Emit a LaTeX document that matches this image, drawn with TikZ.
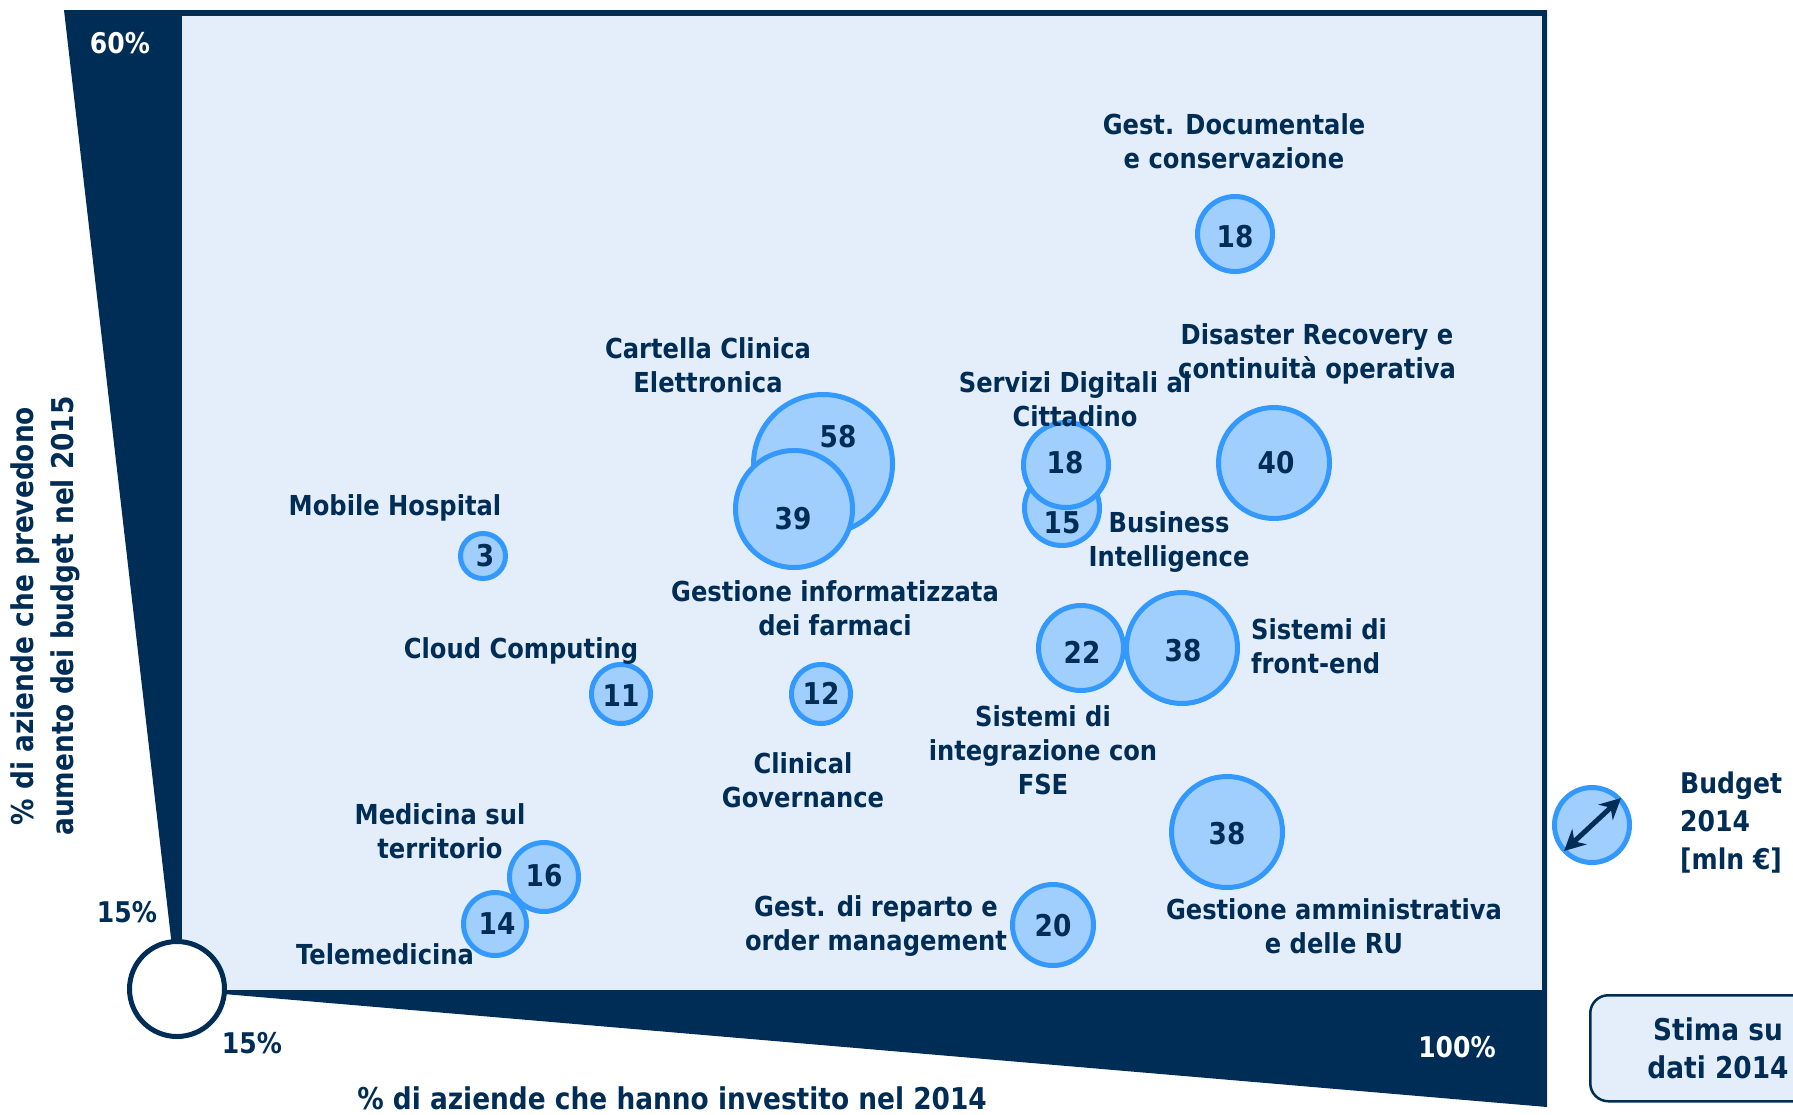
\documentclass[tikz,border=0pt]{standalone}
\usepackage{fontspec}
\setmainfont{DejaVu Sans}[FakeStretch=0.88]
\usetikzlibrary{arrows.meta}
\definecolor{navy}{RGB}{0,45,85}
\definecolor{bgl}{RGB}{228,238,250}
\definecolor{bubfill}{RGB}{160,206,253}
\definecolor{bubline}{RGB}{51,153,255}
\tikzset{
  bub/.style={circle, draw=bubline, fill=bubfill, line width=5pt, inner sep=0pt, minimum size=#1},
  num/.style={text=navy, font=\fontsize{30}{36}\selectfont\bfseries, inner sep=0pt},
  lbl/.style={text=navy, font=\fontsize{27.5}{34}\selectfont\bfseries, align=center, inner sep=0pt},
  big/.style={text=navy, font=\fontsize{30}{38}\selectfont\bfseries, align=center, inner sep=0pt},
  pct/.style={font=\fontsize{28.5}{34}\selectfont\bfseries, inner sep=0pt},
}
\begin{document}
\begin{tikzpicture}[x=1pt,y=-1pt]
\useasboundingbox (0,0) rectangle (1793,1114);
\clip (0,0) rectangle (1793,1114);
% frame
\fill[navy] (64,10) -- (1547,10) -- (1547,1107) -- (177,990) -- cycle;
\fill[bgl] (182,16) rectangle (1542,990);
\node[circle, draw=navy, fill=white, line width=5pt, minimum size=95pt, inner sep=0pt] (origin) at (177,989) {};
% percent labels
\node[pct, text=white] (p60) at (120,43) {60\%};
\node[pct, text=white] (p100) at (1457,1047) {100\%};
\node[pct, text=navy] (p15y) at (127,912) {15\%};
\node[pct, text=navy] (p15x) at (252,1043) {15\%};
% axis titles
\node[big, rotate=90, font=\fontsize{30}{40}\selectfont\bfseries] (ytitle) at (45,616) {\% di aziende che prevedono\\aumento dei budget nel 2015};
\node[big] (xtitle) at (672,1098) {\% di aziende che hanno investito nel 2014};
% bubbles
\node[bub=75pt] (b18a) at (1235,234) {};
\node[bub=139pt] (b58) at (823,464) {};
\node[bub=117pt] (b39) at (794,509) {};
\node[bub=75pt] (b15) at (1062,508) {};
\node[bub=85pt] (b18b) at (1066,465) {};
\node[bub=111pt] (b40) at (1274,463) {};
\node[bub=45pt] (b3) at (483,556) {};
\node[bub=59pt] (b11) at (621,694) {};
\node[bub=59pt] (b12) at (821,694) {};
\node[bub=85pt] (b22) at (1081,648) {};
\node[bub=111pt] (b38a) at (1182,648) {};
\node[bub=111pt] (b38b) at (1227,832) {};
\node[bub=69pt] (b16) at (544,877) {};
\node[bub=63pt] (b14) at (495,924) {};
\node[bub=81pt] (b20) at (1053,925) {};
% numbers
\node[num] (n18a) at (1235,237) {18};
\node[num] (n58) at (838,437) {58};
\node[num] (n39) at (793,519) {39};
\node[num] (n15) at (1062,523) {15};
\node[num] (n18b) at (1065,463) {18};
\node[num] (n40) at (1276,463) {40};
\node[num] (n3) at (485,556) {3};
\node[num] (n11) at (621,696) {11};
\node[num] (n12) at (821,693) {12};
\node[num] (n22) at (1082,652) {22};
\node[num] (n38a) at (1183,651) {38};
\node[num] (n38b) at (1227,834) {38};
\node[num] (n16) at (544,876) {16};
\node[num] (n14) at (497,924) {14};
\node[num] (n20) at (1053,926) {20};
% labels
\node[lbl] (l1) at (1234,141) {Gest. Documentale\\e conservazione};
\node[lbl] (l2) at (708,365) {Cartella Clinica\\Elettronica};
\node[lbl] (l3) at (1075,399) {Servizi Digitali al\\Cittadino};
\node[lbl] (l4) at (1317,354) {Disaster Recovery e\\continuità operativa};
\node[lbl] (l5) at (395,508) {Mobile Hospital};
\node[lbl] (l6) at (1169,542) {Business\\Intelligence};
\node[lbl] (l7) at (835,608) {Gestione informatizzata\\dei farmaci};
\node[lbl] (l8) at (521,651) {Cloud Computing};
\node[lbl, align=left, anchor=west] (l9) at (1251,646) {Sistemi di\\front-end};
\node[lbl] (l10) at (1043,750) {Sistemi di\\integrazione con\\FSE};
\node[lbl] (l11) at (803,780) {Clinical\\Governance};
\node[lbl] (l12) at (440,831) {Medicina sul\\territorio};
\node[lbl] (l13) at (385,954) {Telemedicina};
\node[lbl] (l14) at (876,926) {Gest. di reparto e\\order management};
\node[lbl] (l15) at (1334,926) {Gestione amministrativa\\e delle RU};
% legend
\node[bub=75pt] (leg) at (1592,825) {};
\coordinate (la) at ([shift={(-28pt,-26pt)}]leg.center);
\coordinate (lb) at ([shift={(29pt,27pt)}]leg.center);
\draw[navy, line width=5pt, {Stealth[length=21pt,width=21pt]}-{Stealth[length=21pt,width=21pt]}] (la) -- (lb);
\node[lbl, align=left, anchor=west, font=\fontsize{28.5}{38}\selectfont\bfseries] (legt) at (1680,823) {Budget\\2014\\{[}mln €{]}};
\node[draw=navy, fill=bgl, line width=2.5pt, rounded corners=18pt, minimum width=230pt, minimum height=106pt, anchor=north west] (stima) at (1589,994) {};
\node[big] (stimat) at (1718,1048) {Stima su\\dati 2014};
\end{tikzpicture}
\end{document}
